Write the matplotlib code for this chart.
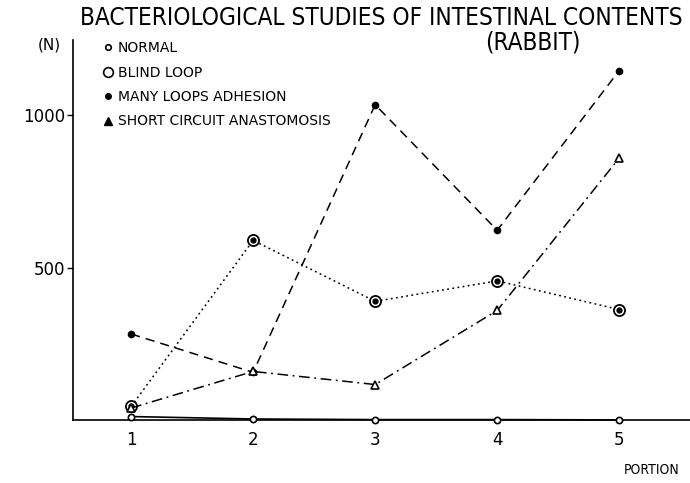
import matplotlib
matplotlib.use("Agg")
import matplotlib.pyplot as plt
from matplotlib.lines import Line2D

plt.rcParams['font.family'] = ['DejaVu Sans']

# données
portions = [1, 2, 3, 4, 5]
normal = [12, 4, 2, 2, 1]
blind_loop = [45, 590, 390, 457, 363]
many_loops = [283, 157, 1035, 623, 1147]
short_circuit = [40, 160, 117, 360, 860]
yticks = [500, 1000]
ytick_labels = ['500', '1000']
labels = ['NORMAL', 'BLIND LOOP', 'MANY LOOPS ADHESION', 'SHORT CIRCUIT ANASTOMOSIS']

fig = plt.figure(figsize=(6.9, 4.83), dpi=100)
ax = fig.add_axes([0.106, 0.13, 0.894, 0.787])

# normal : trait plein, petits cercles
ax.plot(portions, normal, '-', color='black', lw=1.2, marker='o', ms=4.5,
        mfc='white', mec='black', mew=1.2, clip_on=False, zorder=4)
# anse borgne : pointillé, cercle pointé
ax.plot(portions, blind_loop, linestyle=(0, (1.2, 2.2)), color='black', lw=1.1,
        marker='o', ms=8, mfc='white', mec='black', mew=1.3)
ax.plot(portions, blind_loop, 'o', color='black', ms=3.5)
# adhérences : tirets, points noirs
ax.plot(portions, many_loops, linestyle=(0, (6, 4)), color='black', lw=1.1,
        marker='o', ms=4.5, mfc='black', mec='black')
# court-circuit : tiret-point, triangles
ax.plot(portions, short_circuit, linestyle=(0, (7, 3, 1.2, 3)), color='black',
        lw=1.1, marker='^', ms=6, mfc='white', mec='black', mew=1.2)

ax.set_xlim(0.525, 5.58)
ax.set_ylim(0, 1247)
ax.set_xticks(portions)
ax.set_xticklabels([str(p) for p in portions], fontsize=12)
ax.set_yticks(yticks)
ax.set_yticklabels(ytick_labels, fontsize=12)
ax.tick_params(axis='x', length=0, pad=8)
ax.tick_params(axis='y', length=4, width=1, direction='out', pad=2)
for s in ['top', 'right']:
    ax.spines[s].set_visible(False)
ax.spines['left'].set_linewidth(1.2)
ax.spines['bottom'].set_linewidth(1.2)

fig.text(0.072, 0.907, '(N)', fontsize=11, ha='center', va='center')
fig.text(0.945, 0.027, 'PORTION', fontsize=10, ha='center', va='center',
         fontstretch='condensed')
fig.text(0.553, 0.962, 'BACTERIOLOGICAL STUDIES OF INTESTINAL CONTENTS',
         fontsize=17.5, ha='center', va='center', fontstretch='condensed')
fig.text(0.772, 0.912, '(RABBIT)', fontsize=17.5, ha='center', va='center',
         fontstretch='condensed')

handles = [
    Line2D([], [], ls='none', marker='o', ms=4, mfc='white', mec='black', mew=1.2),
    Line2D([], [], ls='none', marker='o', ms=7, mfc='white', mec='black', mew=1.2),
    Line2D([], [], ls='none', marker='o', ms=4, mfc='black', mec='black'),
    Line2D([], [], ls='none', marker='^', ms=6, mfc='black', mec='black'),
]
ax.legend(handles, labels, loc='upper left', bbox_to_anchor=(0.03, 1.03),
          frameon=False, fontsize=10, handlelength=0.6, handletextpad=0.4,
          labelspacing=0.75)

fig.savefig('out.png', dpi=100, facecolor='white')
